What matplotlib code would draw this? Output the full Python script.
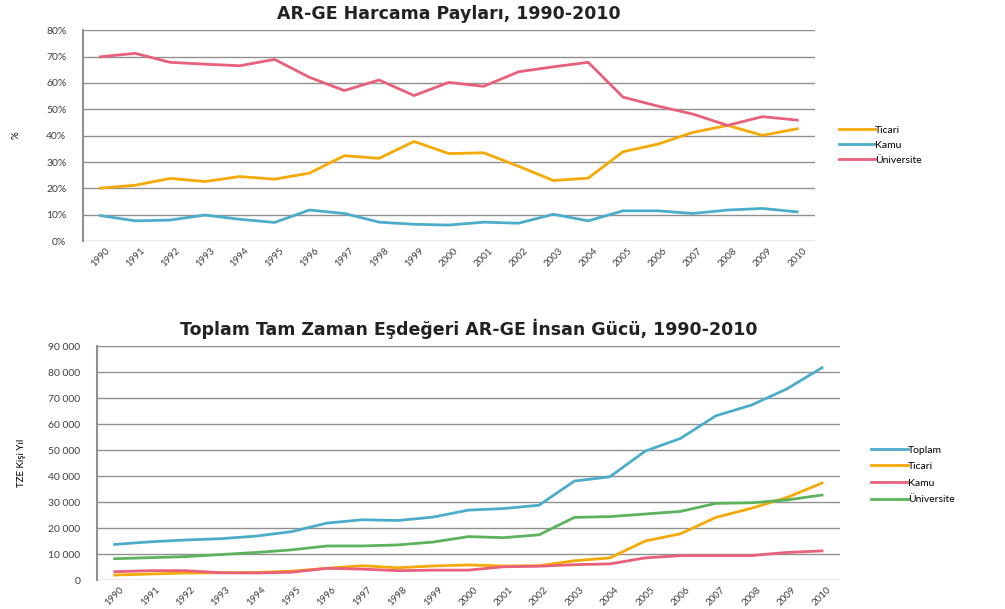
import matplotlib
matplotlib.use("Agg")
import matplotlib.pyplot as plt

plt.rcParams['font.family'] = ['Lato', 'DejaVu Sans']

# years
years = [str(y) for y in range(1990, 2011)]

# top chart: AR-GE spending shares (%)
pay_ticari = [20.1, 21.2, 23.8, 22.6, 24.5, 23.5, 25.8, 32.4, 31.4, 37.8, 33.2,
              33.5, 28.4, 23.0, 23.9, 33.9, 36.8, 41.2, 43.9, 40.1, 42.6]
pay_kamu = [9.7, 7.7, 8.0, 9.9, 8.3, 7.1, 11.8, 10.5, 7.2, 6.4, 6.1,
            7.2, 6.8, 10.2, 7.7, 11.5, 11.5, 10.5, 11.8, 12.4, 11.1]
pay_univ = [69.9, 71.2, 67.8, 67.1, 66.5, 68.9, 62.1, 57.1, 61.1, 55.2, 60.2,
            58.7, 64.2, 66.1, 67.8, 54.6, 51.2, 48.2, 43.9, 47.2, 45.9]

# bottom chart: full time equivalent personnel
fte_toplam = [13700, 14700, 15400, 15900, 16900, 18600, 21900, 23200, 22900, 24200, 26900,
              27500, 28800, 38100, 39700, 49600, 54500, 63200, 67300, 73500, 81700]
fte_ticari = [1900, 2300, 2700, 2800, 2900, 3400, 4500, 5500, 4700, 5400, 5800,
              5400, 5500, 7400, 8500, 15000, 17800, 24100, 27600, 31700, 37300]
fte_kamu = [3200, 3600, 3600, 2800, 2700, 3000, 4500, 4200, 3600, 3800, 3800,
            5100, 5300, 5900, 6200, 8500, 9400, 9400, 9400, 10600, 11200]
fte_univ = [8200, 8600, 9000, 9800, 10600, 11600, 13100, 13100, 13500, 14600, 16700,
            16300, 17400, 24100, 24400, 25400, 26400, 29500, 29700, 30800, 32700]

c_ticari = '#F5A905'
c_kamu = '#4CADCB'
c_univ = '#E8607A'
c_green = '#5DB35D'

fig = plt.figure(figsize=(10.05, 6.09), dpi=100)

def style(ax):
    ax.set_xlim(-0.5, len(years) - 0.5)
    for s in ['top', 'right', 'bottom']:
        ax.spines[s].set_visible(False)
    ax.spines['left'].set_color('#909090')
    ax.spines['left'].set_linewidth(1.5)
    ax.yaxis.grid(True, color='#909090', linewidth=1)
    ax.set_axisbelow(True)
    ax.tick_params(axis='both', length=0, labelsize=7.5, colors='#404040')
    ax.tick_params(axis='y', pad=12)
    ax.set_xticks(range(len(years)))
    ax.set_xticklabels(years, rotation=45, fontsize=7)

# top chart
ax1 = fig.add_axes([0.0826, 0.604, 0.728, 0.3465])
x = range(len(years))
ax1.plot(x, pay_ticari, color=c_ticari, lw=2, label='Ticari')
ax1.plot(x, pay_kamu, color=c_kamu, lw=2, label='Kamu')
ax1.plot(x, pay_univ, color=c_univ, lw=2, label='Üniversite')
style(ax1)
ax1.set_ylim(0, 80)
ax1.set_yticks(range(0, 81, 10))
ax1.set_yticklabels([f'{v}%' for v in range(0, 81, 10)])
ax1.set_ylabel('%', fontsize=7, labelpad=18)
ax1.set_title('AR-GE Harcama Payları, 1990-2010', fontsize=12.5, fontweight='bold',
              family='DejaVu Sans', color='#222222', pad=8)
ax1.legend(loc='center left', bbox_to_anchor=(1.02, 0.455), frameon=False, fontsize=7.5,
           handlelength=3.5, handletextpad=0, labelspacing=0.55)

# bottom chart
ax2 = fig.add_axes([0.0965, 0.0476, 0.739, 0.384])
ax2.plot(x, fte_toplam, color=c_kamu, lw=2, label='Toplam')
ax2.plot(x, fte_ticari, color=c_ticari, lw=2, label='Ticari')
ax2.plot(x, fte_kamu, color=c_univ, lw=2, label='Kamu')
ax2.plot(x, fte_univ, color=c_green, lw=2, label='Üniversite')
style(ax2)
ax2.set_ylim(0, 90000)
ax2.set_yticks(range(0, 90001, 10000))
ax2.set_yticklabels(['0'] + [f'{v // 1000} 000' for v in range(10000, 90001, 10000)])
ax2.set_ylabel('TZE Kişi Yıl', fontsize=7, labelpad=16)
ax2.set_title('Toplam Tam Zaman Eşdeğeri AR-GE İnsan Gücü, 1990-2010', fontsize=12.5,
              fontweight='bold', family='DejaVu Sans', color='#222222', pad=8)
ax2.legend(loc='center left', bbox_to_anchor=(1.03, 0.45), frameon=False, fontsize=7.5,
           handlelength=3.5, handletextpad=0, labelspacing=0.7)

fig.savefig('out.png', dpi=100)
